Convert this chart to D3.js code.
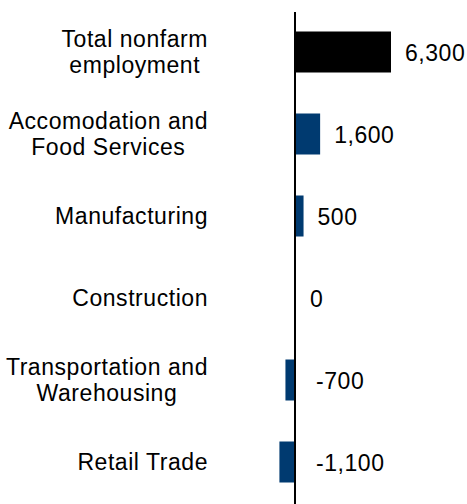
<!DOCTYPE html>
<html>
<head>
<meta charset="utf-8">
<script src="https://cdn.jsdelivr.net/npm/d3@7"></script>
<style>
  body { margin: 0; background: #fff; }
  text { font-family: Arial, "Liberation Sans", sans-serif; fill: #000; letter-spacing: 0.55px; }
</style>
</head>
<body>
<svg></svg>
<script>
//Set Dimensions of svg
var width = 467;
var height = 504;
var svg = d3.select('svg')
            .attr('width', width)
            .attr('height', height);

//Chart data
var categories = ["Total nonfarm|employment", "Accomodation and|Food Services", "Manufacturing",
                  "Construction", "Transportation and|Warehousing", "Retail Trade"];
var values = [6300, 1600, 500, 0, -700, -1100];
var barColors = ["#000000", "#003a70", "#003a70", "#003a70", "#003a70", "#003a70"];

//Scales
var x = d3.scaleLinear()
          .domain([0, 6300])
          .range([296, 391]);

var y = d3.scaleBand()
          .domain(categories)
          .range([11, 503])
          .paddingInner(0.5)
          .paddingOuter(0.25);

var fmt = d3.format(",");

//Bars
svg.append("g")
   .selectAll("rect")
   .data(values)
   .enter()
   .append("rect")
   .attr("x", d => Math.min(x(d), x(0)))
   .attr("y", (d, i) => y(categories[i]))
   .attr("width", d => Math.abs(x(d) - x(0)))
   .attr("height", y.bandwidth())
   .attr("fill", (d, i) => barColors[i]);

//Vertical axis line at zero
svg.append("line")
   .attr("x1", x(0) - 1).attr("x2", x(0) - 1)
   .attr("y1", 12).attr("y2", height)
   .attr("stroke", "#000")
   .attr("stroke-width", 2);

//Category labels: lines centred on each other, block right edge at labelRight
var lineGap = 26;
var labelRight = 208;
svg.append("g")
   .selectAll("text")
   .data(categories)
   .enter()
   .append("text")
   .attr("text-anchor", "middle")
   .style("font-size", "23px")
   .each(function(d) {
       var lines = d.split("|");
       var c = y(d) + y.bandwidth() / 2;
       var t = d3.select(this);
       var spans = lines.map(function(l, i) {
           return t.append("tspan")
                   .attr("y", c + 7.5 + (i - (lines.length - 1) / 2) * lineGap)
                   .text(l);
       });
       var maxW = d3.max(spans, s => s.node().getComputedTextLength());
       spans.forEach(s => s.attr("x", labelRight - maxW / 2));
   });

//Value labels
svg.append("g")
   .selectAll("text")
   .data(values)
   .enter()
   .append("text")
   .attr("x", d => x(Math.max(d, 0)) + (d < 0 ? 20 : 14))
   .attr("y", (d, i) => y(categories[i]) + y.bandwidth() / 2 + 8.5)
   .style("font-size", "23px")
   .text(d => fmt(d).replace("−", "-"));
</script>
</body>
</html>
